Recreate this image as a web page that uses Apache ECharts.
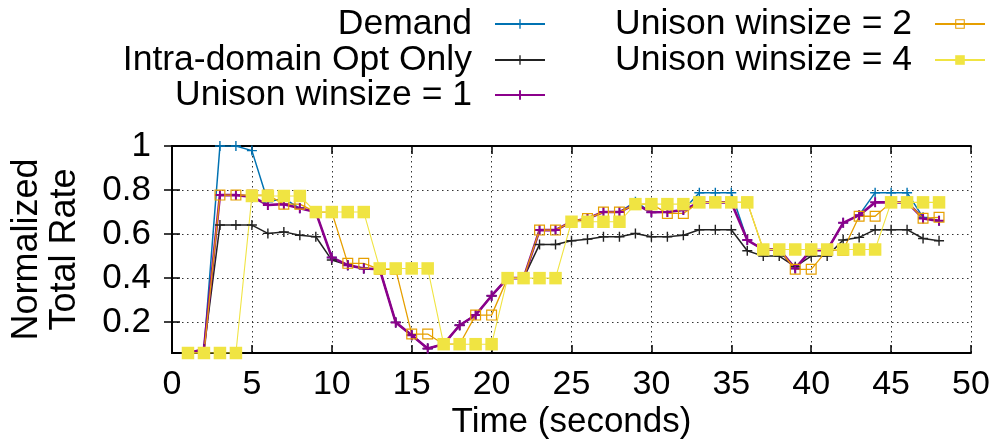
<!DOCTYPE html>
<html>
<head>
<meta charset="utf-8">
<style>
  html, body { margin: 0; padding: 0; background: #fff; }
  #chart { width: 998px; height: 446px; }
</style>
<script src="https://cdn.jsdelivr.net/npm/echarts@6/dist/echarts.min.js"></script>
</head>
<body>
<div id="chart"></div>
<script>
// Time axis (seconds) for each sample
const timeSec = [1,2,3,4,5,6,7,8,9,10,11,12,13,14,15,16,17,18,19,20,21,22,23,24,
                 25,26,27,28,29,30,31,32,33,34,35,36,37,38,39,40,41,42,43,44,45,46,47,48];

const demand = [0.06, 0.077, 1.0, 1.0, 0.979, 0.747, 0.762, 0.717, 0.70, 0.494, 0.459, 0.444,
                0.44, 0.199, 0.141, 0.08, 0.10, 0.186, 0.232, 0.32, 0.40, 0.40, 0.618, 0.618,
                0.656, 0.671, 0.70, 0.70, 0.747, 0.699, 0.70, 0.709, 0.788, 0.788, 0.788, 0.573,
                0.53, 0.53, 0.444, 0.527, 0.527, 0.651, 0.686, 0.788, 0.788, 0.788, 0.676, 0.66];

const intraOnly = [0.06, 0.077, 0.641, 0.641, 0.641, 0.603, 0.61, 0.595, 0.588, 0.482, 0.459, 0.444,
                   0.44, 0.199, 0.141, 0.08, 0.10, 0.186, 0.232, 0.32, 0.40, 0.40, 0.553, 0.553,
                   0.57, 0.577, 0.588, 0.588, 0.603, 0.588, 0.588, 0.595, 0.62, 0.62, 0.62, 0.524,
                   0.50, 0.50, 0.452, 0.50, 0.50, 0.573, 0.585, 0.62, 0.62, 0.62, 0.58, 0.57];

const unison1 = [0.06, 0.077, 0.777, 0.777, 0.77, 0.732, 0.736, 0.717, 0.70, 0.494, 0.459, 0.444,
                 0.44, 0.199, 0.141, 0.08, 0.10, 0.186, 0.232, 0.32, 0.40, 0.40, 0.618, 0.618,
                 0.656, 0.671, 0.70, 0.70, 0.736, 0.699, 0.70, 0.709, 0.744, 0.744, 0.744, 0.573,
                 0.53, 0.53, 0.444, 0.527, 0.527, 0.651, 0.686, 0.744, 0.744, 0.744, 0.671, 0.66];

const unison2 = [0.06, 0.06, 0.777, 0.777, 0.777, 0.777, 0.736, 0.736, 0.70, 0.70, 0.467, 0.467,
                 0.44, 0.44, 0.146, 0.146, 0.10, 0.10, 0.232, 0.232, 0.40, 0.40, 0.618, 0.618,
                 0.656, 0.671, 0.70, 0.70, 0.736, 0.736, 0.694, 0.694, 0.744, 0.744, 0.744, 0.744,
                 0.53, 0.53, 0.44, 0.44, 0.527, 0.527, 0.681, 0.681, 0.744, 0.744, 0.672, 0.676];

const unison4 = [0.06, 0.06, 0.06, 0.06, 0.773, 0.773, 0.773, 0.773, 0.70, 0.70, 0.70, 0.70,
                 0.444, 0.444, 0.444, 0.444, 0.10, 0.10, 0.10, 0.10, 0.40, 0.40, 0.40, 0.40,
                 0.656, 0.656, 0.656, 0.656, 0.736, 0.736, 0.736, 0.736, 0.744, 0.744, 0.744, 0.744,
                 0.53, 0.53, 0.53, 0.53, 0.53, 0.53, 0.53, 0.53, 0.744, 0.744, 0.744, 0.744];

const seriesNames = ['Demand', 'Intra-domain Opt Only', 'Unison winsize = 1',
                     'Unison winsize = 2', 'Unison winsize = 4'];
const yTicks = [0.2, 0.4, 0.6, 0.8, 1];

const FONT = '"Liberation Sans", Arial, sans-serif';

// filled plus sign; t = bar thickness in a 0..20 box
function plusPath(t) {
  const a = 10 - t / 2, b = 10 + t / 2;
  return `path://M${a},0 H${b} V${a} H20 V${b} H${b} V20 H${a} V${b} H0 V${a} H${a} Z`;
}
// hollow square outline (inner contour wound the other way)
const hollowSquare = 'path://M0,0 H20 V20 H0 Z M2.2,2.2 V17.8 H17.8 V2.2 Z';

function pairs(values) {
  return timeSec.map((t, i) => [t, values[i]]);
}

function lineSeries(name, values, color, width, symbol, size) {
  return {
    name: name,
    type: 'line',
    data: pairs(values),
    symbol: symbol,
    symbolSize: size,
    showAllSymbol: true,
    animation: false,
    lineStyle: { color: color, width: width },
    itemStyle: { color: color, borderWidth: 0 },
    emphasis: { disabled: true }
  };
}

const seriesList = [
  lineSeries(seriesNames[0], demand, '#0072b2', 1.5, plusPath(2.8), 10),
  lineSeries(seriesNames[1], intraOnly, '#222222', 1.5, plusPath(2.8), 10),
  lineSeries(seriesNames[2], unison1, '#8b008b', 2.6, plusPath(4), 10),
  lineSeries(seriesNames[3], unison2, '#e69f00', 1.3, hollowSquare, 11),
  lineSeries(seriesNames[4], unison4, '#f0e442', 1.1, 'rect', 12.5)
];

const legendSpots = [
  { right: 452, top: 6 },
  { right: 452, top: 42 },
  { right: 452, top: 77 },
  { right: 12, top: 6 },
  { right: 12, top: 42 }
];

const legends = seriesNames.map((n, i) => ({
  data: [n],
  right: legendSpots[i].right,
  top: legendSpots[i].top,
  align: 'right',
  orient: 'vertical',
  padding: 0,
  itemWidth: 50,
  itemHeight: 12,
  selectedMode: false,
  textStyle: {
    fontFamily: FONT, fontSize: 35.5, color: '#000',
    padding: [0, 18, 0, 0]
  }
}));

const dotted = { color: '#333', width: 1, type: [1.5, 3.5] };

const option = {
  backgroundColor: '#fff',
  animation: false,
  legend: legends,
  grid: { left: 167, right: 27, top: 146, bottom: 93, containLabel: false },
  xAxis: [{
    type: 'value', min: 0, max: 50, interval: 5,
    position: 'bottom',
    name: 'Time (seconds)', nameLocation: 'middle', nameGap: 52,
    nameTextStyle: { fontFamily: FONT, fontSize: 35, color: '#000' },
    axisLine: { show: true, lineStyle: { color: '#000', width: 2 } },
    axisTick: { show: true, inside: true, length: 8, lineStyle: { color: '#000', width: 1.5 } },
    axisLabel: { fontFamily: FONT, fontSize: 34, color: '#000', margin: 15, showMinLabel: true, showMaxLabel: true },
    splitLine: { show: true, lineStyle: dotted }
  }, {
    type: 'value', min: 0, max: 50, interval: 5,
    position: 'top',
    axisLine: { show: true, lineStyle: { color: '#000', width: 2 } },
    axisTick: { show: true, inside: true, length: 8, lineStyle: { color: '#000', width: 1.5 } },
    axisLabel: { show: false },
    splitLine: { show: false }
  }],
  yAxis: [{
    type: 'value', min: 0.06, max: 1,
    position: 'left',
    name: 'Normalized\nTotal Rate', nameLocation: 'middle', nameGap: 88, nameRotate: 90,
    nameTextStyle: { fontFamily: FONT, fontSize: 36, color: '#000', lineHeight: 38 },
    axisLine: { show: true, lineStyle: { color: '#000', width: 2 } },
    axisTick: { show: true, inside: true, length: 8, customValues: yTicks, lineStyle: { color: '#000', width: 1.5 } },
    axisLabel: {
      fontFamily: FONT, fontSize: 35, color: '#000', margin: 21,
      customValues: yTicks,
      formatter: v => String(Math.round(v * 10) / 10)
    },
    splitLine: { show: true, lineStyle: dotted }
  }, {
    type: 'value', min: 0.06, max: 1,
    position: 'right',
    axisLine: { show: true, lineStyle: { color: '#000', width: 2 } },
    axisTick: { show: true, inside: true, length: 8, customValues: yTicks, lineStyle: { color: '#000', width: 1.5 } },
    axisLabel: { show: false, customValues: yTicks },
    splitLine: { show: false }
  }],
  series: seriesList
};

const chart = echarts.init(document.getElementById('chart'), null, { renderer: 'canvas' });
chart.setOption(option);
</script>
</body>
</html>
